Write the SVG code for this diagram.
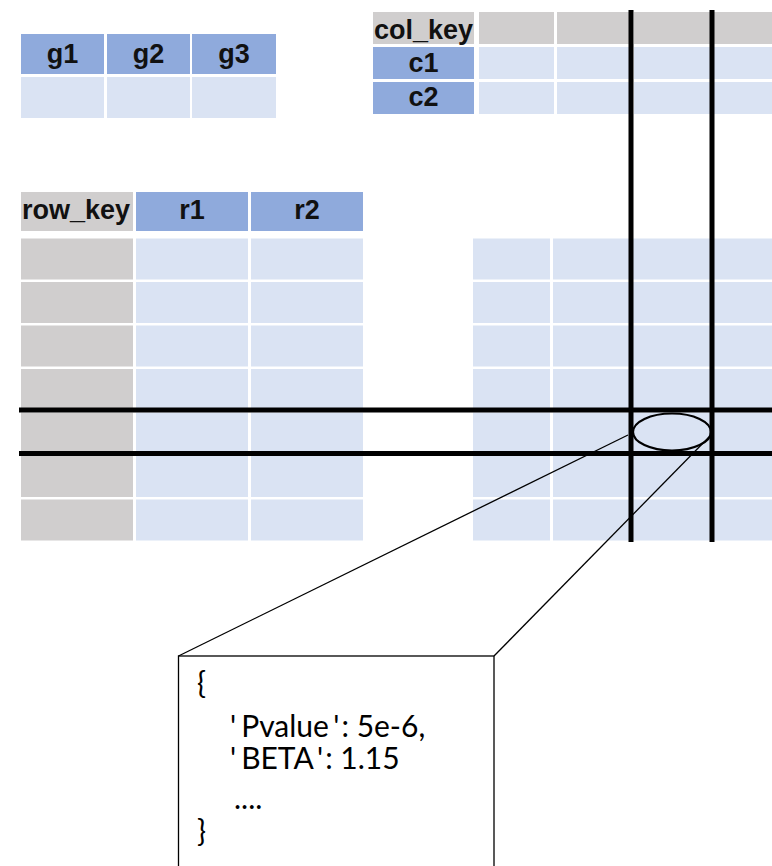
<svg xmlns="http://www.w3.org/2000/svg" width="772" height="866" viewBox="0 0 772 866">
  <style>
    .hdr { fill: #8FAADC; }
    .key { fill: #D0CECE; }
    .cell { fill: #DAE3F3; }
    .lbl { font-family: "Liberation Sans", Arial, sans-serif; font-weight: bold; font-size: 27px; fill: #111; }
    .mid { text-anchor: middle; }
    .bar { stroke: #000; stroke-width: 5; fill: none; }
    .thin { stroke: #000; stroke-width: 1.3; fill: none; }
    .code { font-family: Lato, "Open Sans", sans-serif; font-size: 30px; fill: #000; }
  </style>

  <!-- group table g1..g3 -->
  <g id="group-table">
    <rect class="hdr" x="21" y="34" width="83" height="40"/>
    <rect class="hdr" x="107" y="34" width="83" height="40"/>
    <rect class="hdr" x="192" y="34" width="84" height="40"/>
    <rect class="cell" x="21" y="77" width="83" height="41"/>
    <rect class="cell" x="107" y="77" width="83" height="41"/>
    <rect class="cell" x="192" y="77" width="84" height="41"/>
    <text class="lbl mid" x="62.5" y="63">g1</text>
    <text class="lbl mid" x="148.5" y="63">g2</text>
    <text class="lbl mid" x="234" y="63">g3</text>
  </g>

  <!-- column key table -->
  <g id="col-table">
    <rect class="key" x="373" y="12" width="101" height="32"/>
    <rect class="hdr" x="373" y="47" width="101" height="32"/>
    <rect class="hdr" x="373" y="82" width="101" height="32"/>
    <rect class="key" x="479" y="12" width="75" height="32"/>
    <rect class="key" x="557" y="12" width="75" height="32"/>
    <rect class="key" x="634" y="12" width="76" height="32"/>
    <rect class="key" x="712" y="12" width="60" height="32"/>
    <rect class="cell" x="479" y="47" width="75" height="32"/>
    <rect class="cell" x="557" y="47" width="75" height="32"/>
    <rect class="cell" x="634" y="47" width="76" height="32"/>
    <rect class="cell" x="712" y="47" width="60" height="32"/>
    <rect class="cell" x="479" y="82" width="75" height="32"/>
    <rect class="cell" x="557" y="82" width="75" height="32"/>
    <rect class="cell" x="634" y="82" width="76" height="32"/>
    <rect class="cell" x="712" y="82" width="60" height="32"/>
    <text class="lbl" x="374" y="39">col_key</text>
    <text class="lbl mid" x="423.5" y="72">c1</text>
    <text class="lbl mid" x="423.5" y="106">c2</text>
  </g>

  <!-- row key table -->
  <g id="row-table">
    <rect class="key" x="21" y="192" width="112" height="39"/>
    <rect class="hdr" x="136" y="192" width="112" height="39"/>
    <rect class="hdr" x="251" y="192" width="112" height="39"/>
    <text class="lbl" x="22" y="219">row_key</text>
    <text class="lbl mid" x="192" y="219">r1</text>
    <text class="lbl mid" x="307" y="219">r2</text>
    <g id="row-cells">
      <rect class="key" x="21" y="238.5" width="112" height="41"/>
      <rect class="key" x="21" y="282" width="112" height="41"/>
      <rect class="key" x="21" y="325.5" width="112" height="41"/>
      <rect class="key" x="21" y="369" width="112" height="41"/>
      <rect class="key" x="21" y="412.5" width="112" height="41"/>
      <rect class="key" x="21" y="456" width="112" height="41"/>
      <rect class="key" x="21" y="499.5" width="112" height="41"/>
      <rect class="cell" x="136" y="238.5" width="112" height="41"/>
      <rect class="cell" x="136" y="282" width="112" height="41"/>
      <rect class="cell" x="136" y="325.5" width="112" height="41"/>
      <rect class="cell" x="136" y="369" width="112" height="41"/>
      <rect class="cell" x="136" y="412.5" width="112" height="41"/>
      <rect class="cell" x="136" y="456" width="112" height="41"/>
      <rect class="cell" x="136" y="499.5" width="112" height="41"/>
      <rect class="cell" x="251" y="238.5" width="112" height="41"/>
      <rect class="cell" x="251" y="282" width="112" height="41"/>
      <rect class="cell" x="251" y="325.5" width="112" height="41"/>
      <rect class="cell" x="251" y="369" width="112" height="41"/>
      <rect class="cell" x="251" y="412.5" width="112" height="41"/>
      <rect class="cell" x="251" y="456" width="112" height="41"/>
      <rect class="cell" x="251" y="499.5" width="112" height="41"/>
    </g>
  </g>

  <!-- value matrix -->
  <g id="matrix">
    <g id="matrix-col1">
      <rect class="cell" x="473" y="238.5" width="77" height="41"/>
      <rect class="cell" x="473" y="282" width="77" height="41"/>
      <rect class="cell" x="473" y="325.5" width="77" height="41"/>
      <rect class="cell" x="473" y="369" width="77" height="41"/>
      <rect class="cell" x="473" y="412.5" width="77" height="41"/>
      <rect class="cell" x="473" y="456" width="77" height="41"/>
      <rect class="cell" x="473" y="499.5" width="77" height="41"/>
    </g>
    <g id="matrix-col2">
      <rect class="cell" x="553" y="238.5" width="77" height="41"/>
      <rect class="cell" x="553" y="282" width="77" height="41"/>
      <rect class="cell" x="553" y="325.5" width="77" height="41"/>
      <rect class="cell" x="553" y="369" width="77" height="41"/>
      <rect class="cell" x="553" y="412.5" width="77" height="41"/>
      <rect class="cell" x="553" y="456" width="77" height="41"/>
      <rect class="cell" x="553" y="499.5" width="77" height="41"/>
    </g>
    <g id="matrix-col3">
      <rect class="cell" x="633" y="238.5" width="77" height="41"/>
      <rect class="cell" x="633" y="282" width="77" height="41"/>
      <rect class="cell" x="633" y="325.5" width="77" height="41"/>
      <rect class="cell" x="633" y="369" width="77" height="41"/>
      <rect class="cell" x="633" y="412.5" width="77" height="41"/>
      <rect class="cell" x="633" y="456" width="77" height="41"/>
      <rect class="cell" x="633" y="499.5" width="77" height="41"/>
    </g>
    <g id="matrix-col4">
      <rect class="cell" x="713" y="238.5" width="59" height="41"/>
      <rect class="cell" x="713" y="282" width="59" height="41"/>
      <rect class="cell" x="713" y="325.5" width="59" height="41"/>
      <rect class="cell" x="713" y="369" width="59" height="41"/>
      <rect class="cell" x="713" y="412.5" width="59" height="41"/>
      <rect class="cell" x="713" y="456" width="59" height="41"/>
      <rect class="cell" x="713" y="499.5" width="59" height="41"/>
    </g>
  </g>

  <!-- selection bars, highlight ellipse and callout leaders -->
  <g id="connectors">
    <line class="bar" x1="19" y1="410" x2="772" y2="410"/>
    <line class="bar" x1="19" y1="453.5" x2="772" y2="453.5"/>
    <line class="bar" x1="631" y1="10" x2="631" y2="542"/>
    <line class="bar" x1="712" y1="10" x2="712" y2="542"/>
    <ellipse cx="672" cy="432" rx="39" ry="18.5" fill="none" stroke="#000" stroke-width="2.2"/>
    <line class="thin" x1="628" y1="435" x2="178.5" y2="656"/>
    <line class="thin" x1="709" y1="437" x2="494" y2="656"/>
  </g>

  <!-- detail box for the selected cell -->
  <g id="detail">
    <rect x="178.5" y="656" width="315.5" height="230" fill="#fff" stroke="#000" stroke-width="1.3"/>
    <text class="code" x="197" y="694">{</text>
    <text class="code" x="230" y="737">'<tspan dx="5">Pvalue</tspan><tspan dx="5">'</tspan><tspan dx="2">: 5e-6,</tspan></text>
    <text class="code" x="230" y="769">'<tspan dx="5">BETA</tspan><tspan dx="5">'</tspan><tspan dx="2">: 1.15</tspan></text>
    <text class="code" x="234" y="809">....</text>
    <text class="code" x="197" y="842">}</text>
  </g>
</svg>
